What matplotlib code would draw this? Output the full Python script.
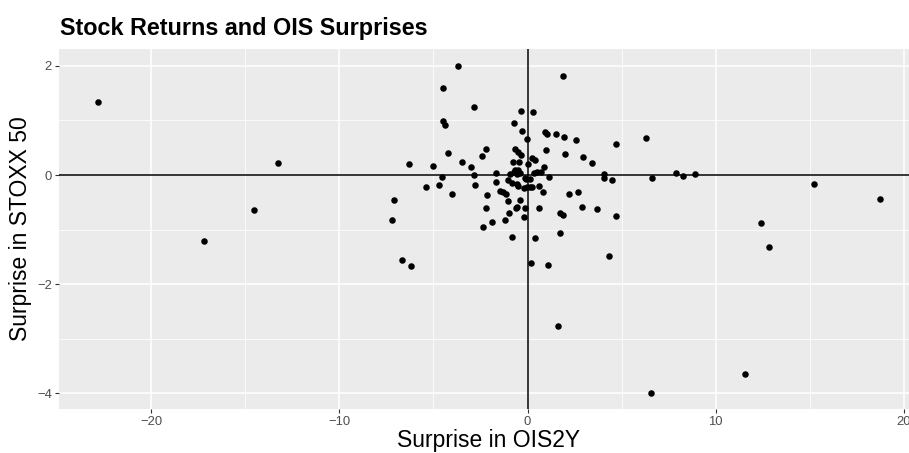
import matplotlib.pyplot as plt
from matplotlib.ticker import MultipleLocator

plt.rcParams['font.family'] = ['Liberation Sans', 'DejaVu Sans']

# surprise in 2y OIS (bp) vs STOXX 50 return surprise
ois2y = [
    -22.82, -17.18, -14.52, -13.26,
    -7.09, -7.20, -6.70, -6.20, -6.29, -5.39, -5.00, -4.71, -4.54, -4.48,
    -4.48, -4.38, -4.23, -3.99, -3.69, -3.49, -2.98, -2.85, -2.82, -2.80,
    -2.43, -2.20, -2.14, -2.20, -2.37, -1.88, -1.70, -1.70, -1.47, -1.33,
    -1.17, -1.19, -1.04, -0.97, -0.85, -0.71, -0.37, -0.27, -0.02, -0.64,
    -0.51, -0.37, -0.79, -0.47, -0.65, -0.48, -0.74, -0.92, -0.56, -0.39,
    -1.04, -0.83, -0.56, -0.48, -0.12, -0.03, -0.21, -0.39, -0.58, -0.62,
    -0.16, -0.18, -0.09, 0.11,
    0.05, 0.23, 0.40, 0.14, 0.23, 0.30, 0.92, 1.04, 1.52, 1.95,
    2.57, 1.00, 2.00, 2.96, 3.42, 4.72, 6.31, 0.90, 0.32, 0.50,
    0.70, 1.13, 0.62, 0.81, 0.60, 1.75, 1.91, 2.22, 2.66, 2.91,
    3.72, 4.72, 1.72, 0.41, 0.21, 1.11, 4.31, 1.62, 6.58, 1.91,
    4.04, 4.08, 4.49, 6.64, 7.91, 8.24, 8.92, 11.57, 12.43, 12.84,
    15.22, 18.74,
]
stoxx50 = [
    1.34, -1.20, -0.64, 0.22,
    -0.46, -0.82, -1.56, -1.67, 0.20, -0.22, 0.16, -0.18, -0.04, 1.60,
    0.99, 0.92, 0.40, -0.35, 2.00, 0.24, 0.15, 1.24, 0.00, -0.18,
    0.34, 0.48, -0.37, -0.60, -0.96, -0.86, 0.03, -0.13, -0.29, -0.32,
    -0.35, -0.83, -0.48, -0.70, -1.14, 0.96, 1.18, 0.81, 0.66, 0.48,
    0.42, 0.36, 0.23, 0.23, 0.10, 0.09, 0.05, 0.01, 0.01, 0.03,
    -0.10, -0.14, -0.16, -0.20, -0.05, -0.22, -0.24, -0.46, -0.58, -0.61,
    -0.60, -0.76, -0.07, -0.22,
    0.20, 0.32, 0.27, -0.08, -0.22, 1.15, 0.79, 0.75, 0.75, 0.69,
    0.64, 0.46, 0.39, 0.33, 0.22, 0.57, 0.68, 0.15, 0.03, 0.05,
    0.06, -0.04, -0.20, -0.32, -0.61, -0.70, -0.74, -0.35, -0.32, -0.59,
    -0.63, -0.75, -1.06, -1.15, -1.62, -1.64, -1.48, -2.77, -3.99, 1.82,
    0.02, -0.06, -0.09, -0.05, 0.04, -0.01, 0.01, -3.64, -0.88, -1.31,
    -0.16, -0.44,
]

fig = plt.figure(figsize=(9.09, 4.53), dpi=100)
ax = fig.add_axes([0.0649, 0.0978, 0.9450, 0.7940])

ax.set_facecolor('#EBEBEB')
for s in ax.spines.values():
    s.set_visible(False)

ax.set_xlim(-24.91, 20.76)
ax.set_ylim(-4.28, 2.308)
ax.xaxis.set_major_locator(MultipleLocator(10))
ax.xaxis.set_minor_locator(MultipleLocator(5))
ax.yaxis.set_major_locator(MultipleLocator(2))
ax.yaxis.set_minor_locator(MultipleLocator(1))
ax.grid(which='major', color='white', linewidth=1.1)
ax.grid(which='minor', color='white', linewidth=0.55)
ax.set_axisbelow(True)

ax.tick_params(which='major', length=2.75, width=0.8, color='#333333',
               labelcolor='#4D4D4D', labelsize=9.4, pad=2.2)
ax.tick_params(which='minor', length=0)

ax.axhline(0, color='black', linewidth=1.1, zorder=2)
ax.axvline(0, color='black', linewidth=1.1, zorder=2)
ax.scatter(ois2y, stoxx50, s=22, color='black', linewidths=0, zorder=3)

ax.set_xlabel('Surprise in OIS2Y', fontsize=16.5, labelpad=1)
ax.set_ylabel('Surprise in STOXX 50', fontsize=16.5, labelpad=4)
fig.text(0.066, 0.936, 'Stock Returns and OIS Surprises', fontsize=16.8,
         fontweight='bold', va='center', ha='left')

fig.savefig('out.png', dpi=100)
